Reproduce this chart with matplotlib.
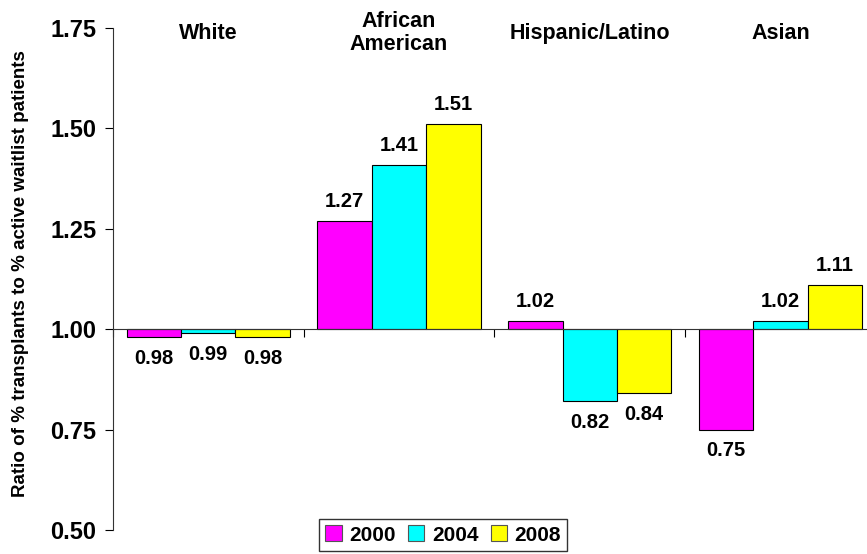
import numpy as np
import matplotlib.pyplot as plt

plt.rcParams['font.family'] = ['Liberation Sans', 'DejaVu Sans']
plt.rcParams['font.weight'] = 'bold'

# ratio of % transplants to % active waitlist patients, by group and year
groups = ['White', 'African\nAmerican', 'Hispanic/Latino', 'Asian']
years = ['2000', '2004', '2008']
ratio_2000 = [0.98, 1.27, 1.02, 0.75]
ratio_2004 = [0.99, 1.41, 0.82, 1.02]
ratio_2008 = [0.98, 1.51, 0.84, 1.11]
colors = ['#FF00FF', '#00FFFF', '#FFFF00']

fig = plt.figure(figsize=(8.67, 5.54), dpi=100)
ax = fig.add_axes([0.1303, 0.0433, 0.8697, 0.9062])

x = np.arange(len(groups)) + 0.5
width = 0.285
series = [ratio_2000, ratio_2004, ratio_2008]
for k, (vals, col, yr) in enumerate(zip(series, colors, years)):
    vals = np.array(vals)
    xs = x + (k - 1) * width
    ax.bar(xs, vals - 1.0, width=width, bottom=1.0, color=col,
           edgecolor='black', linewidth=0.8, label=yr)
    for xi, v in zip(xs, vals):
        off = 14 if v > 1 else -15
        ax.annotate(f'{v:.2f}', (xi, v), xytext=(0, off),
                    textcoords='offset points', ha='center', va='center',
                    fontsize=14.5, fontweight='bold')

# group names along the top
for xi, g in zip(x, groups):
    ax.text(xi, 1.737, g, ha='center', va='center', fontsize=15.5,
            fontweight='bold', linespacing=1.15)

ax.set_ylim(0.5, 1.75)
ax.set_xlim(0, 3.954)
ax.set_yticks([0.5, 0.75, 1.0, 1.25, 1.5, 1.75])
ax.set_yticklabels(['0.50', '0.75', '1.00', '1.25', '1.50', '1.75'])
ax.tick_params(axis='y', direction='out', length=6, width=0.8,
               labelsize=17, pad=6)

# x axis runs along ratio = 1 with ticks between groups
ax.spines['bottom'].set_position(('data', 1.0))
ax.set_xticks(np.arange(len(groups)))
ax.set_xticklabels([])
ax.tick_params(axis='x', direction='out', length=6, width=0.8)
ax.spines['top'].set_visible(False)
ax.spines['right'].set_visible(False)
for s in ['left', 'bottom']:
    ax.spines[s].set_linewidth(0.8)
    ax.spines[s].set_color('#333333')

fig.text(0.024, 0.507, 'Ratio of % transplants to % active waitlist patients',
         rotation=90, ha='center', va='center', fontsize=13.5,
         fontweight='bold')

leg = fig.legend(loc='upper center', bbox_to_anchor=(0.511, 0.063),
                 ncol=3, fontsize=15, frameon=True, fancybox=False,
                 handlelength=0.8, handleheight=0.8, handletextpad=0.35,
                 columnspacing=0.6, borderpad=0.3, borderaxespad=0)
leg.get_frame().set_edgecolor('black')
leg.get_frame().set_linewidth(1.0)
for h in leg.legend_handles:
    h.set_edgecolor('#555555')

fig.savefig('out.png', dpi=100)
